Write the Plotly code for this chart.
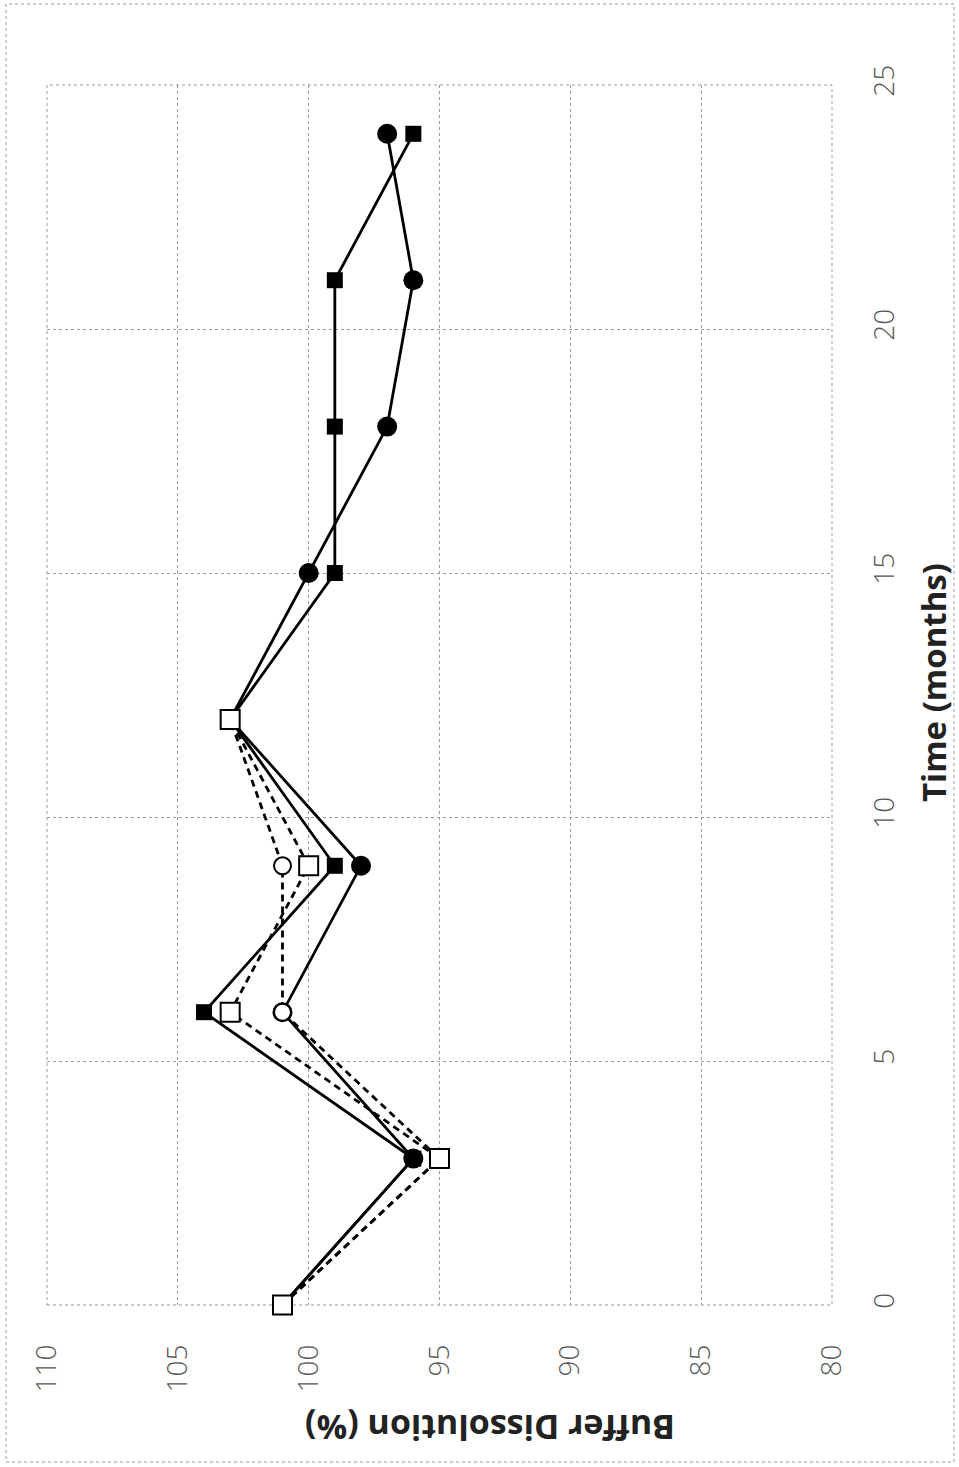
import plotly.graph_objects as go

# Data (time in months, buffer dissolution in %)
time_full = [0, 3, 6, 9, 12, 15, 18, 21, 24]
time_short = [0, 3, 6, 9, 12]
filled_square = [101, 96, 104, 99, 103, 99, 99, 99, 96]
filled_circle = [101, 96, 101, 98, 103, 100, 97, 96, 97]
open_circle = [101, 95, 101, 101, 103]
open_square = [101, 95, 103, 100, 103]

x_ticks = [110, 105, 100, 95, 90, 85, 80]
y_ticks = [0, 5, 10, 15, 20, 25]

W, H = 959, 1467
L, R, T, B = 47, 127, 85, 162

fig = go.Figure()

fig.add_trace(go.Scatter(
    x=filled_square, y=time_full, mode="lines+markers", cliponaxis=False,
    line=dict(color="black", width=2.8),
    marker=dict(symbol="square", size=16, color="black"),
    showlegend=False))
fig.add_trace(go.Scatter(
    x=filled_circle, y=time_full, mode="lines+markers", cliponaxis=False,
    line=dict(color="black", width=2.8),
    marker=dict(symbol="circle", size=20, color="black"),
    showlegend=False))
fig.add_trace(go.Scatter(
    x=open_circle, y=time_short, mode="lines+markers", cliponaxis=False,
    line=dict(color="black", width=2.8, dash="7px,5px"),
    marker=dict(symbol="circle", size=17, color="white",
                line=dict(color="black", width=2)),
    showlegend=False))
fig.add_trace(go.Scatter(
    x=open_square, y=time_short, mode="lines+markers", cliponaxis=False,
    line=dict(color="black", width=2.8, dash="7px,5px"),
    marker=dict(symbol="square", size=19, color="white",
                line=dict(color="black", width=2)),
    showlegend=False))

tick_font = dict(family="Open Sans", size=28, color="#555555", weight=300)

fig.update_layout(
    width=W, height=H,
    margin=dict(l=L, r=R, t=T, b=B),
    plot_bgcolor="white", paper_bgcolor="white",
    xaxis=dict(
        range=[110, 80], tickvals=x_ticks, ticktext=[str(v) for v in x_ticks],
        tickangle=-90, tickfont=tick_font,
        showgrid=True, gridcolor="#9a9a9a", griddash="dot", gridwidth=1,
        zeroline=False, showline=False, ticks="",
        ticklabelstandoff=33,
    ),
    yaxis=dict(
        range=[0, 25], tickvals=y_ticks, ticktext=[str(v) for v in y_ticks],
        side="right", tickangle=-90, tickfont=tick_font,
        showgrid=True, gridcolor="#9a9a9a", griddash="dot", gridwidth=1,
        zeroline=False, showline=False, ticks="",
        ticklabelstandoff=33,
    ),
    annotations=[
        dict(text="<b>Time (months)</b>", textangle=-90, showarrow=False,
             xref="paper", yref="paper",
             x=(933 - L) / (W - L - R), y=(H - B - 683) / (H - T - B),
             xanchor="center", yanchor="middle",
             font=dict(family="Open Sans", size=33, color="#222222")),
        dict(text="<b>Buffer Dissolution (%)</b>", textangle=180, showarrow=False,
             xref="paper", yref="paper",
             x=(490 - L) / (W - L - R), y=(H - B - 1428) / (H - T - B),
             xanchor="center", yanchor="middle",
             font=dict(family="Open Sans", size=34, color="#222222")),
    ],
    shapes=[
        dict(type="rect", xref="paper", yref="paper",
             x0=0, x1=1, y0=0, y1=1,
             line=dict(color="#9a9a9a", width=1, dash="dot"), layer="below"),
        dict(type="rect", xref="paper", yref="paper",
             x0=(6 - L) / (W - L - R), x1=(954 - L) / (W - L - R),
             y0=(H - B - 1462) / (H - T - B), y1=(H - B - 4) / (H - T - B),
             line=dict(color="#9a9a9a", width=1, dash="dot")),
    ],
)

fig.write_html("out.html")
